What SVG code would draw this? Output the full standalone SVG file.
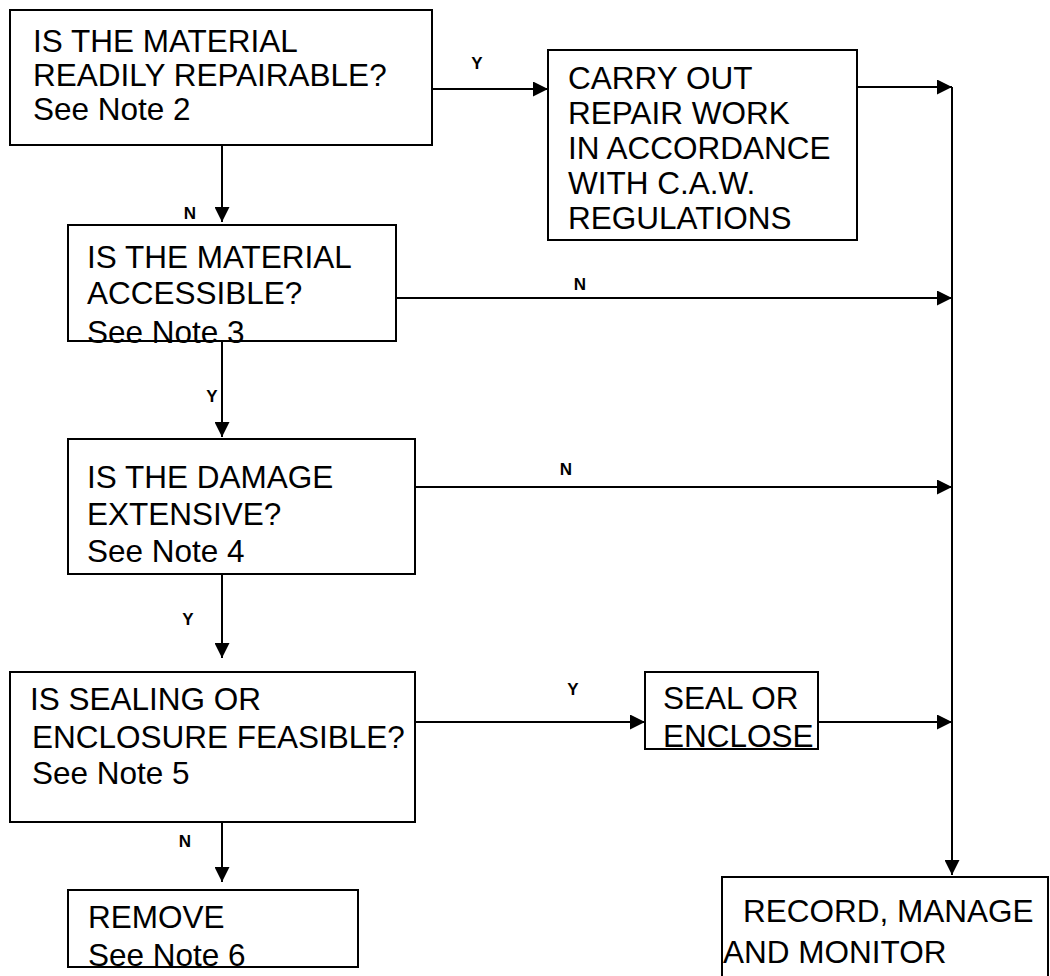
<svg xmlns="http://www.w3.org/2000/svg" width="1050" height="976" viewBox="0 0 1050 976">
  <style>
    .box{fill:#fff;stroke:#000;stroke-width:2}
    .t{font-family:"Liberation Sans",Arial,sans-serif;font-size:31.5px;fill:#000}
    .lbl{font-family:"Liberation Sans",Arial,sans-serif;font-size:17px;font-weight:bold;fill:#000;text-anchor:middle}
    .c{stroke:#000;stroke-width:2;fill:none}
  </style>
  <defs>
    <marker id="arrow" markerUnits="userSpaceOnUse" markerWidth="15" markerHeight="15" refX="15" refY="7.5" orient="auto">
      <path d="M0,0 L15,7.5 L0,15 Z" fill="#000"/>
    </marker>
  </defs>
  <rect width="1050" height="976" fill="#fff"/>

  <!-- connectors and their Y / N labels -->
  <g id="connectors">
    <path class="c" d="M432,89 H548" marker-end="url(#arrow)"/>
    <path class="c" d="M857,87 H952" marker-end="url(#arrow)"/>
    <path class="c" d="M952,87 V875" marker-end="url(#arrow)"/>
    <path class="c" d="M222,145 V222" marker-end="url(#arrow)"/>
    <path class="c" d="M396,298 H952" marker-end="url(#arrow)"/>
    <path class="c" d="M222,341 V437" marker-end="url(#arrow)"/>
    <path class="c" d="M415,487 H952" marker-end="url(#arrow)"/>
    <path class="c" d="M222,565 V658" marker-end="url(#arrow)"/>
    <path class="c" d="M415,722 H645" marker-end="url(#arrow)"/>
    <path class="c" d="M818,722 H952" marker-end="url(#arrow)"/>
    <path class="c" d="M222,822 V882" marker-end="url(#arrow)"/>
    <text class="lbl" x="477" y="69">Y</text>
    <text class="lbl" x="190" y="219">N</text>
    <text class="lbl" x="580" y="290">N</text>
    <text class="lbl" x="212" y="402">Y</text>
    <text class="lbl" x="566" y="475">N</text>
    <text class="lbl" x="188" y="625">Y</text>
    <text class="lbl" x="573" y="695">Y</text>
    <text class="lbl" x="185" y="847">N</text>
  </g>

  <g id="repairable">
    <rect class="box" x="10" y="10" width="422" height="135"/>
    <text class="t" x="33" y="52">IS THE MATERIAL</text>
    <text class="t" x="33" y="86">READILY REPAIRABLE?</text>
    <text class="t" x="33" y="120">See Note 2</text>
  </g>

  <g id="repair">
    <rect class="box" x="548" y="50" width="309" height="190"/>
    <text class="t" x="568" y="89">CARRY OUT</text>
    <text class="t" x="568" y="124">REPAIR WORK</text>
    <text class="t" x="568" y="159">IN ACCORDANCE</text>
    <text class="t" x="568" y="194">WITH C.A.W.</text>
    <text class="t" x="568" y="229">REGULATIONS</text>
  </g>

  <g id="accessible">
    <rect class="box" x="68" y="225" width="328" height="116"/>
    <text class="t" x="87" y="268">IS THE MATERIAL</text>
    <text class="t" x="87" y="304">ACCESSIBLE?</text>
    <text class="t" x="87" y="343">See Note 3</text>
  </g>

  <g id="damage">
    <rect class="box" x="68" y="439" width="347" height="135"/>
    <text class="t" x="87" y="488">IS THE DAMAGE</text>
    <text class="t" x="87" y="525">EXTENSIVE?</text>
    <text class="t" x="87" y="562">See Note 4</text>
  </g>

  <g id="sealing">
    <rect class="box" x="10" y="672" width="405" height="150"/>
    <text class="t" x="30" y="710">IS SEALING OR</text>
    <text class="t" x="32" y="748">ENCLOSURE FEASIBLE?</text>
    <text class="t" x="32" y="784">See Note 5</text>
  </g>

  <g id="seal">
    <rect class="box" x="645" y="672" width="173" height="77"/>
    <text class="t" x="663" y="709">SEAL OR</text>
    <text class="t" x="663" y="747">ENCLOSE</text>
  </g>

  <g id="remove">
    <rect class="box" x="68" y="890" width="290" height="77"/>
    <text class="t" x="88" y="928">REMOVE</text>
    <text class="t" x="88" y="966">See Note 6</text>
  </g>

  <g id="record">
    <rect class="box" x="722" y="877" width="326" height="120"/>
    <text class="t" x="743" y="922">RECORD, MANAGE</text>
    <text class="t" x="723" y="963">AND MONITOR</text>
  </g>
</svg>
